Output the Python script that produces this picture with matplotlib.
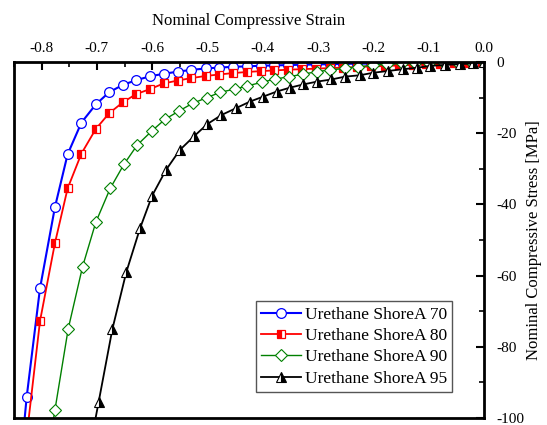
import numpy as np
import matplotlib.pyplot as plt
from matplotlib.ticker import MultipleLocator

plt.rcParams["font.family"] = ["Liberation Serif", "DejaVu Serif"]
plt.rcParams["axes.unicode_minus"] = False

# Strain / stress
strain_70 = [-0.852, -0.827, -0.803, -0.776, -0.753, -0.728, -0.702, -0.678, -0.653, -0.629,
             -0.604, -0.579, -0.554, -0.529, -0.503, -0.479, -0.454, -0.429, -0.404, -0.379,
             -0.354, -0.329, -0.304, -0.279, -0.254, -0.229, -0.204, -0.179, -0.154, -0.129,
             -0.104, -0.079, -0.054, -0.029, -0.004]
stress_70 = [-135, -94.0, -63.6, -40.8, -25.9, -17.0, -11.9, -8.5, -6.4, -5.1,
             -4.0, -3.3, -2.7, -2.2, -1.8, -1.55, -1.35, -1.2, -1.05, -0.95,
             -0.85, -0.75, -0.68, -0.6, -0.52, -0.45, -0.4, -0.34, -0.28, -0.22,
             -0.17, -0.12, -0.08, -0.04, -0.01]

strain_80 = strain_70[1:]
stress_80 = [-105, -72.8, -50.9, -35.5, -25.7, -18.8, -14.4, -11.3, -9.0, -7.6,
             -6.0, -5.2, -4.5, -3.9, -3.5, -3.1, -2.8, -2.55, -2.35, -2.15,
             -2.0, -1.85, -1.7, -1.55, -1.4, -1.25, -1.1, -0.95, -0.8, -0.65,
             -0.5, -0.35, -0.2, -0.05]

strain_90 = [-0.801, -0.776, -0.752, -0.726, -0.702, -0.676, -0.651, -0.627, -0.601, -0.577,
             -0.552, -0.527, -0.501, -0.477, -0.451, -0.428, -0.402, -0.378, -0.352, -0.327,
             -0.302, -0.278, -0.251, -0.227, -0.200, -0.175, -0.148, -0.124, -0.099, -0.074,
             -0.049, -0.024, 0.0]
stress_90 = [-122, -97.8, -75.0, -57.5, -45.0, -35.5, -28.7, -23.3, -19.4, -16.1,
             -13.8, -11.6, -10.0, -8.5, -7.6, -6.7, -5.7, -4.8, -4.1, -3.4,
             -2.7, -2.2, -1.8, -1.3, -0.9, -0.6, -0.4, -0.3, -0.2, -0.12,
             -0.06, -0.02, 0.0]

strain_95 = [-0.722, -0.697, -0.672, -0.647, -0.622, -0.600, -0.575, -0.550, -0.524, -0.500,
             -0.475, -0.449, -0.423, -0.399, -0.375, -0.351, -0.327, -0.302, -0.276, -0.251,
             -0.224, -0.200, -0.173, -0.146, -0.121, -0.098, -0.071, -0.044, -0.020, 0.0]
stress_95 = [-116, -95.6, -75.0, -59.1, -46.7, -37.5, -30.3, -24.7, -20.8, -17.4,
             -14.9, -13.0, -11.1, -9.7, -8.3, -7.2, -6.3, -5.5, -4.9, -4.1,
             -3.7, -3.0, -2.5, -2.0, -1.6, -1.1, -0.8, -0.6, -0.4, 0.0]

labels = ["Urethane ShoreA 70", "Urethane ShoreA 80", "Urethane ShoreA 90", "Urethane ShoreA 95"]

fig = plt.figure(figsize=(5.47, 4.25), dpi=100)
ax = fig.add_axes([0.0256, 0.0165, 0.859, 0.8375])

ax.plot(strain_70, stress_70, color="blue", lw=1.5, marker="o", ms=7,
        mfc="white", mec="blue", mew=0.9, label=labels[0])
ax.plot(strain_80, stress_80, color="red", lw=1.3, marker="s", ms=6,
        fillstyle="left", mfc="red", mfcalt="white", mec="red", mew=0.9, label=labels[1])
ax.plot(strain_90, stress_90, color="green", lw=1.0, marker="D", ms=6,
        mfc="white", mec="green", mew=0.8, label=labels[2])
ax.plot(strain_95, stress_95, color="black", lw=1.3, marker="^", ms=7,
        fillstyle="right", mfc="black", mfcalt="white", mec="black", mew=0.8, label=labels[3])

ax.set_xlim(-0.85, 0.0)
ax.set_ylim(-100, 0)

ax.xaxis.tick_top()
ax.xaxis.set_label_position("top")
ax.yaxis.tick_right()
ax.yaxis.set_label_position("right")
ax.xaxis.set_major_locator(MultipleLocator(0.1))
ax.xaxis.set_minor_locator(MultipleLocator(0.05))
ax.yaxis.set_major_locator(MultipleLocator(20))
ax.yaxis.set_minor_locator(MultipleLocator(10))
ax.xaxis.set_major_formatter(plt.FuncFormatter(lambda v, p: "%.1f" % (0.0 if abs(v) < 1e-9 else v)))
ax.tick_params(which="major", direction="in", length=6, width=1.5, labelsize=11)
ax.tick_params(axis="x", which="major", pad=5)
ax.tick_params(axis="y", which="major", pad=9)
ax.tick_params(which="minor", direction="in", length=3.5, width=1.2)
for s in ax.spines.values():
    s.set_linewidth(2)

ax.set_xlabel("Nominal Compressive Strain", fontsize=12, labelpad=12)
ax.set_ylabel("Nominal Compressive Stress [MPa]", fontsize=12, labelpad=1)

leg = ax.legend(loc="lower right", bbox_to_anchor=(0.932, 0.073), borderaxespad=0,
                fontsize=12.5, fancybox=False, edgecolor="#555555", handlelength=2.3,
                borderpad=0.3, labelspacing=0.3, handletextpad=0.2, framealpha=1)
leg.get_frame().set_linewidth(1.0)

fig.savefig("out.png", dpi=100)
